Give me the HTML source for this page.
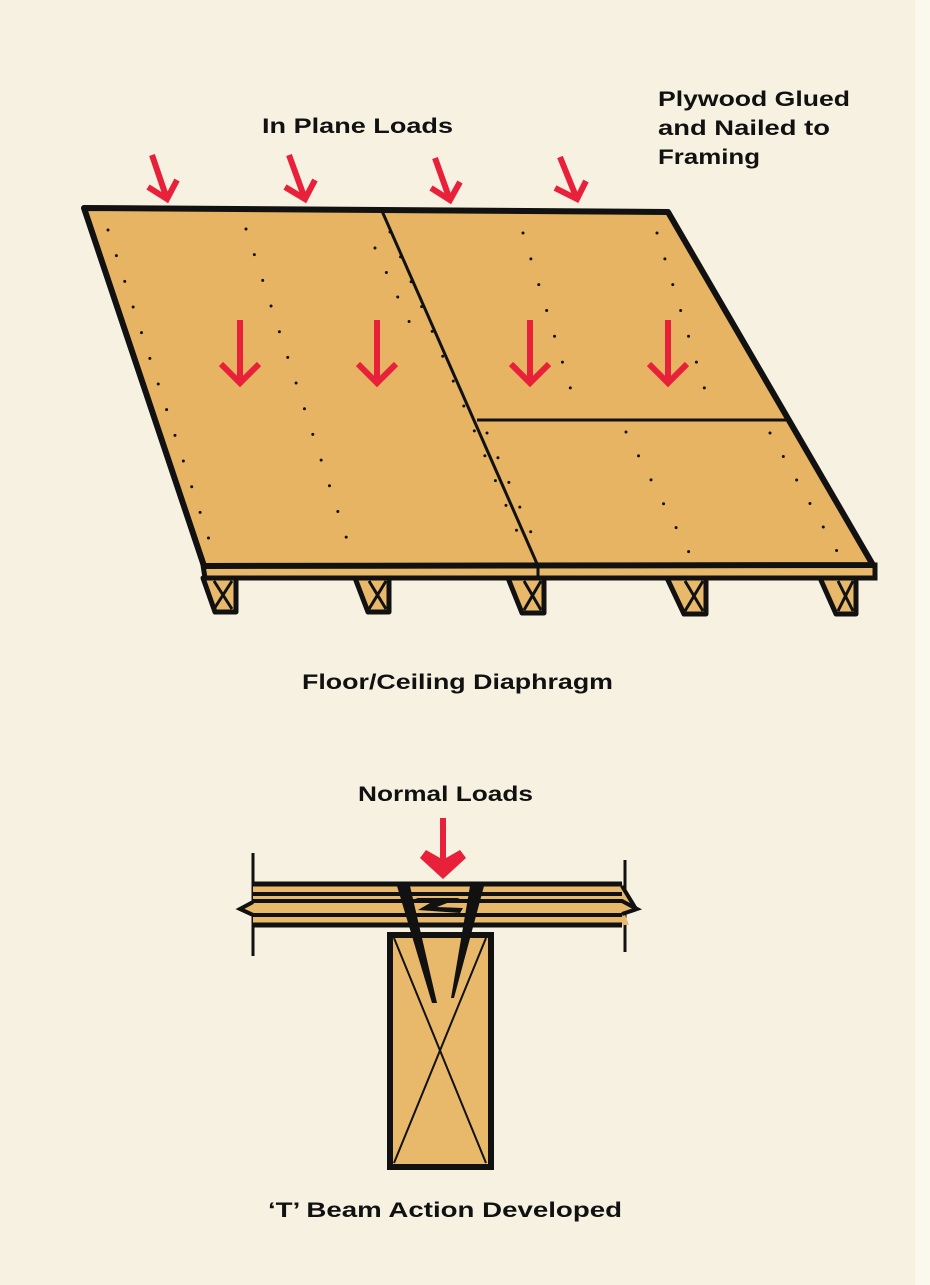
<!DOCTYPE html>
<html><head><meta charset="utf-8"><style>
html,body{margin:0;padding:0;background:#f6f1e0;}
svg{display:block}
text{font-family:"Liberation Sans",sans-serif;font-weight:bold;font-size:21px;fill:#111;}
</style></head><body>
<svg width="930" height="1285" viewBox="0 0 930 1285" xmlns="http://www.w3.org/2000/svg">
<rect width="930" height="1285" fill="#f6f1e0"/>
<rect x="915" y="0" width="15" height="1285" fill="#fbf8ee"/>
<text x="262" y="133" textLength="191" lengthAdjust="spacingAndGlyphs">In Plane Loads</text>
<text x="658" y="106" textLength="192" lengthAdjust="spacingAndGlyphs">Plywood Glued</text>
<text x="658" y="135" textLength="172" lengthAdjust="spacingAndGlyphs">and Nailed to</text>
<text x="658" y="164" textLength="102" lengthAdjust="spacingAndGlyphs">Framing</text>
<text x="302" y="689" textLength="311" lengthAdjust="spacingAndGlyphs">Floor/Ceiling Diaphragm</text>
<text x="358" y="801" textLength="175" lengthAdjust="spacingAndGlyphs">Normal Loads</text>
<text x="268" y="1217" textLength="354" lengthAdjust="spacingAndGlyphs">‘T’ Beam Action Developed</text>

<!-- joists -->
<g stroke="#111" stroke-width="5" fill="#e8b96a" stroke-linejoin="round">
<path d="M203,578 L236,578 L236,612 L215,612 Z"/>
<path d="M355,578 L389,578 L389,612 L368,612 Z"/>
<path d="M508,578 L544,578 L544,613 L522,613 Z"/>
<path d="M667,578 L706,578 L706,614 L684,614 Z"/>
<path d="M820,578 L856,578 L856,614 L836,614 Z"/>
</g>
<g stroke="#111" stroke-width="3" fill="none">
<path d="M214,581 L232,609 M232,581 L214,609"/>
<path d="M369,581 L386,609 M386,581 L369,609"/>
<path d="M524,581 L541,610 M541,581 L524,610"/>
<path d="M685,581 L703,611 M703,581 L685,611"/>
<path d="M838,581 L853,611 M853,581 L838,611"/>
</g>
<!-- edge band -->
<path d="M203,565 L875,565 L875,578 L205,578 Z" fill="#e8b96a" stroke="#111" stroke-width="5"/>
<line x1="538" y1="566" x2="538" y2="578" stroke="#111" stroke-width="3"/>
<!-- top face -->
<path d="M84,208 L668,212 L873,565 L204,566 Z" fill="#e6b462" stroke="#111" stroke-width="6" stroke-linejoin="round"/>
<line x1="382" y1="211" x2="538" y2="566" stroke="#111" stroke-width="3"/>
<line x1="477" y1="420" x2="786" y2="420" stroke="#111" stroke-width="3"/>
<!-- nails -->
<g stroke="#111" stroke-width="3" stroke-linecap="round" stroke-dasharray="0 27" fill="none">
<line x1="108" y1="230" x2="214" y2="555"/>
<line x1="246" y1="229" x2="352" y2="555"/>
<line x1="390" y1="232" x2="527" y2="555"/>
<line x1="375" y1="248" x2="420" y2="345"/>
<line x1="523" y1="233" x2="574" y2="400"/>
<line x1="657" y1="233" x2="708" y2="400"/>
<line x1="487" y1="433" x2="541" y2="555"/>
<line x1="626" y1="432" x2="693" y2="560"/>
<line x1="770" y1="433" x2="842" y2="560"/>
</g>
<!-- red arrows -->
<g stroke="#e8203a" stroke-width="6" fill="none" stroke-linecap="butt" stroke-linejoin="miter">
<path d="M152,155 L167,199 M148,187 L167,199 L177,180"/>
<path d="M289,155 L305,199 M285,187 L305,199 L315,180"/>
<path d="M435,158 L450,200 M431,188 L450,200 L460,182"/>
<path d="M560,157 L577,199 M555,188 L577,199 L586,181"/>
<path d="M240,320 L240,383 M221,364 L240,383 L259,364"/>
<path d="M377,320 L377,383 M358,364 L377,383 L396,364"/>
<path d="M530,320 L530,383 M511,364 L530,383 L549,364"/>
<path d="M668,320 L668,383 M649,364 L668,383 L687,364"/>
</g>
<path d="M440,818 L446,818 L446,858 L460,850 L466,858 L443,879 L420,858 L426,850 L440,858 Z" fill="#e8203a"/>
<!-- T beam -->
<g stroke="#111" fill="none">
<line x1="253" y1="853" x2="253" y2="956" stroke-width="3"/>
<line x1="625" y1="860" x2="625" y2="952" stroke-width="3"/>
</g>
<path d="M253,883 L622,883 L628,897 L638,909 L624,912 L629,925 L253,926 L253,915 L238,909 L253,902 Z" fill="#e8b96a"/>
<g stroke="#111" stroke-width="4" fill="none">
<line x1="253" y1="884" x2="622" y2="884" stroke-width="5"/>
<line x1="253" y1="925" x2="622" y2="925" stroke-width="5"/>
<path d="M253,894 L622,894 M253,901 L622,901 L637,909 L622,914 M253,902 L240,909 L253,915 L622,915"/>
<path d="M622,886 L636,909"/>
</g>
<rect x="390" y="935" width="101" height="232" fill="#e8b96a" stroke="#111" stroke-width="6"/>
<g stroke="#111" stroke-width="2">
<line x1="394" y1="938" x2="486" y2="1163"/>
<line x1="486" y1="938" x2="394" y2="1163"/>
</g>
<g fill="#111">
<path d="M397,886 L410,886 L437,1003 L432,1003 Z"/>
<path d="M470,886 L484,886 L454,998 L451,998 Z"/>
<path d="M415,898 L460,898 L437,907 L463,908 L460,913 L418,910 L430,903 Z"/>
</g>
</svg>
</body></html>
